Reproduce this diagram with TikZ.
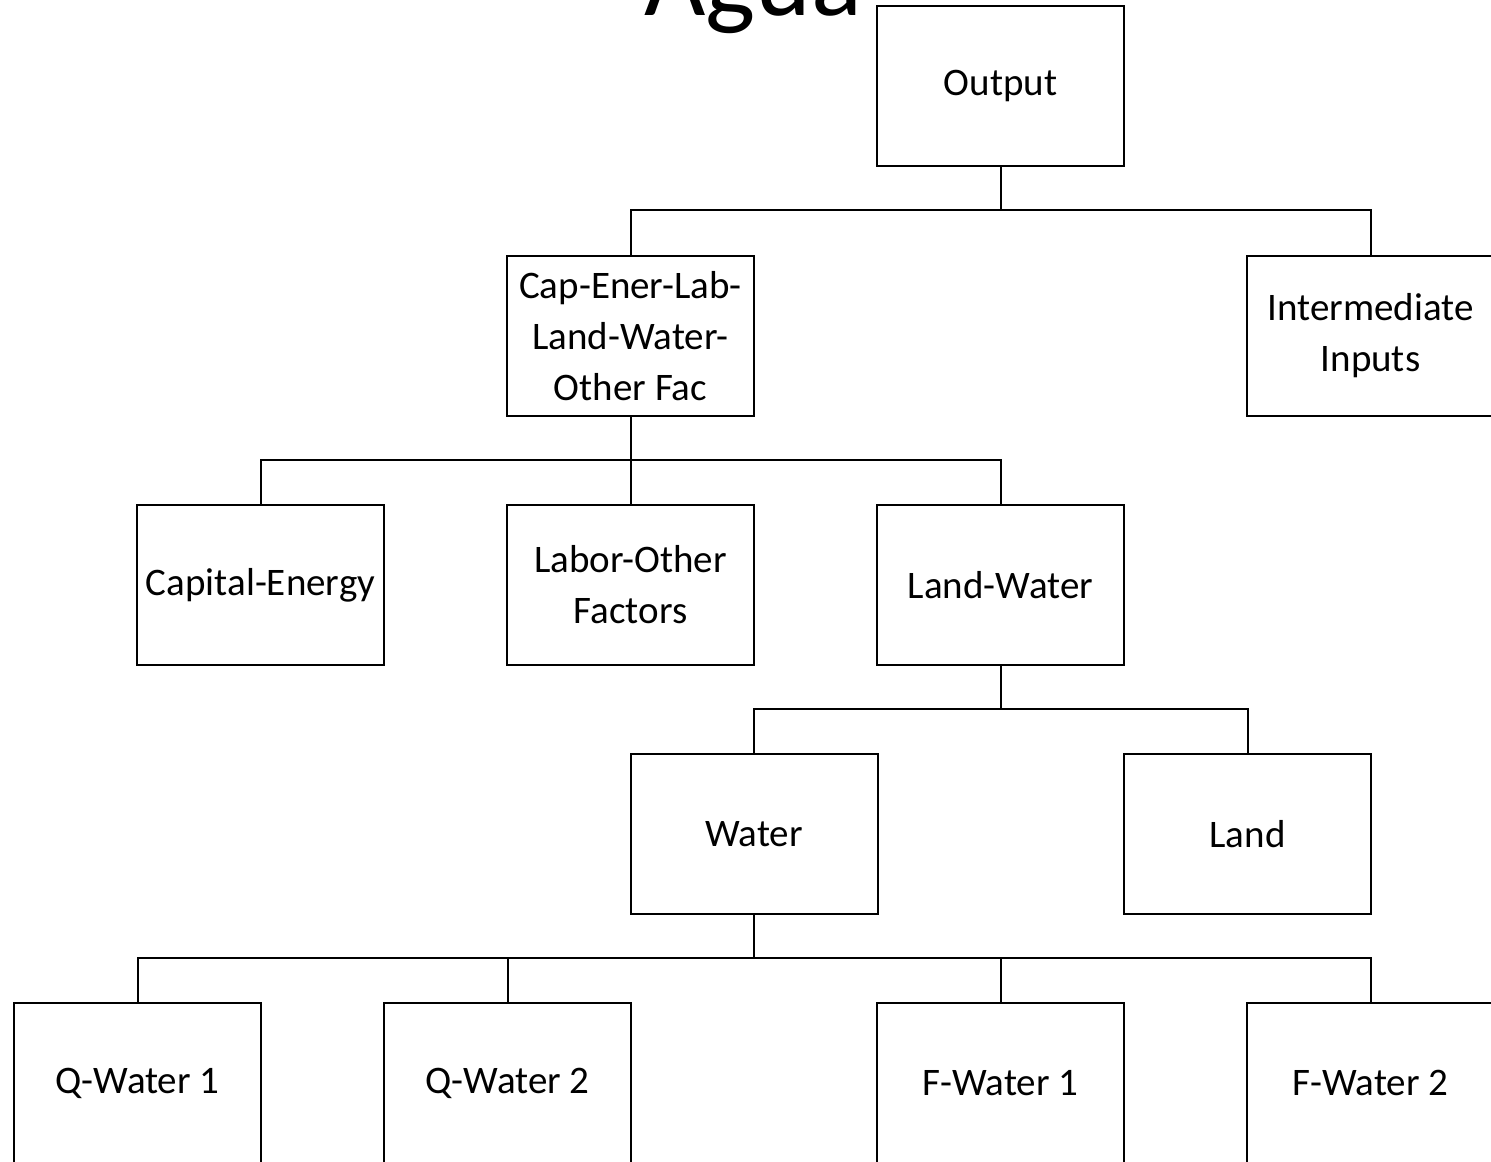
\documentclass[tikz,border=0pt]{standalone}
\usepackage{fontspec}
\setmainfont{Carlito}

\tikzset{every picture/.style={line width=1pt}}
\tikzset{factbox/.style={draw,rectangle,minimum width=123.5pt,minimum height=80pt,inner sep=2pt,align=center,font=\fontsize{19.5}{25.5}\selectfont}}

\begin{document}
\begin{tikzpicture}[x=0.5pt,y=0.5pt,yscale=-1,xscale=1]
\useasboundingbox (0,0) rectangle (1491,1161);
\clip (0,0) rectangle (1491,1161);

% Title
\node (title) [anchor=base,inner sep=0pt,font=\fontsize{53}{60}\selectfont] at (753,16) {Agua};

% Boxes
\node (out) [factbox] at (1000.5,86) {Output};
\node (cap) [factbox] at (630.5,336) {Cap-Ener-Lab-\\Land-Water-\\Other Fac};
\node (inter) [factbox] at (1370.5,336) {Intermediate\\Inputs};
\node (cape) [factbox] at (260.5,585) {Capital-Energy};
\node (lab) [factbox] at (630.5,585) {Labor-Other\\Factors};
\node (lw) [factbox] at (1000.5,585) {Land-Water};
\node (wat) [factbox] at (754,834) {Water};
\node (land) [factbox] at (1247.5,834) {Land};
\node (qw1) [factbox] at (137.5,1083) {Q-Water 1};
\node (qw2) [factbox] at (507.5,1083) {Q-Water 2};
\node (fw1) [factbox] at (1000.5,1083) {F-Water 1};
\node (fw2) [factbox] at (1370.5,1083) {F-Water 2};

% Branch points
\coordinate (b1) at (1000.5,210);
\coordinate (b2) at (630.5,460);
\coordinate (b3) at (1000.5,709);
\coordinate (b4) at (754,958);

% Connectors
\draw (out.south) -- (b1);
\draw (cap.north) |- (b1) -| (inter.north);
\draw (cap.south) -- (lab.north);
\draw (cape.north) |- (b2) -| (lw.north);
\draw (lw.south) -- (b3);
\draw (wat.north) |- (b3) -| (land.north);
\draw (wat.south) -- (b4);
\draw (qw1.north) |- (b4) -| (fw2.north);
\draw (qw2.north) -- (qw2.north |- b4);
\draw (fw1.north) -- (fw1.north |- b4);

\end{tikzpicture}
\end{document}
